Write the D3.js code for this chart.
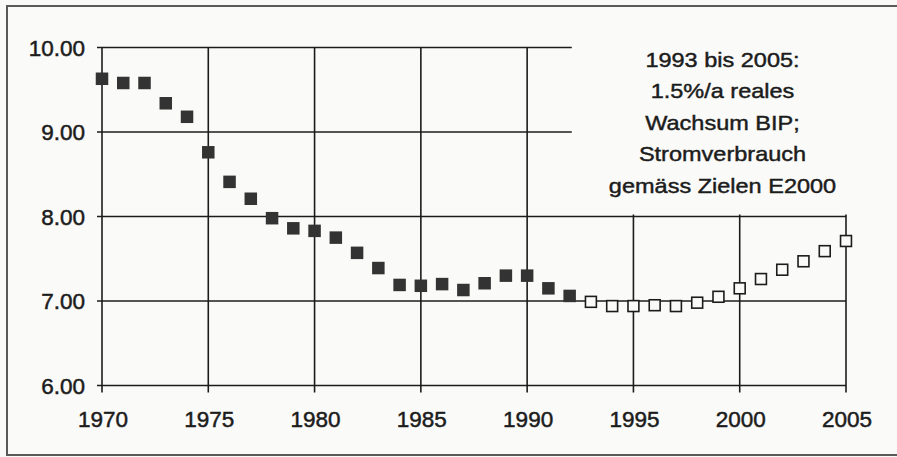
<!DOCTYPE html>
<html>
<head>
<meta charset="utf-8">
<script src="https://cdn.jsdelivr.net/npm/d3@7"></script>
<style>
  html, body { margin: 0; padding: 0; background: #fafaf8; }
  svg { display: block; font-family: "Liberation Sans", Arial, Helvetica, sans-serif; }
</style>
</head>
<body>
<div id="chart"></div>
<script>
const yearsHist = [1970, 1971, 1972, 1973, 1974, 1975, 1976, 1977, 1978, 1979, 1980,
                   1981, 1982, 1983, 1984, 1985, 1986, 1987, 1988, 1989, 1990, 1991, 1992];
const valuesHist = [9.63, 9.58, 9.58, 9.34, 9.18, 8.76, 8.41, 8.21, 7.98, 7.86, 7.83,
                    7.75, 7.57, 7.39, 7.19, 7.18, 7.20, 7.13, 7.21, 7.30, 7.30, 7.15, 7.06];

// scenario 1993 - 2005
const yearsProj = [1993, 1994, 1995, 1996, 1997, 1998, 1999, 2000, 2001, 2002, 2003, 2004, 2005];
const valuesProj = [6.99, 6.94, 6.94, 6.95, 6.94, 6.98, 7.05, 7.15, 7.26, 7.37, 7.47, 7.59, 7.71];

const xTicks = [1970, 1975, 1980, 1985, 1990, 1995, 2000, 2005];
const yTicks = [6, 7, 8, 9, 10];

const noteLines = ["1993 bis 2005:", "1.5%/a reales", "Wachsum BIP;", "Stromverbrauch", "gemäss Zielen E2000"];

const W = 897, H = 457;
const margin = {top: 47.5, right: 51, bottom: 71.5, left: 102};
const ink = "#1c1c1c";
const bg = "#fafaf8";

const svg = d3.select("#chart").append("svg")
    .attr("width", W)
    .attr("height", H);

// outer frame of the figure (right edge is cut off in the scan)
svg.append("path")
    .attr("d", `M${W + 10},6 H7 V455 H${W + 10}`)
    .attr("fill", "none")
    .attr("stroke", "#5a5a5a")
    .attr("stroke-width", 2);

const x = d3.scaleLinear()
    .domain([1970, 2005])
    .range([margin.left, W - margin.right]);

const y = d3.scaleLinear()
    .domain([6, 10])
    .range([H - margin.bottom, margin.top]);

const grid = svg.append("g")
    .attr("stroke", ink)
    .attr("stroke-width", 1.6);

// horizontal grid lines
grid.selectAll("line.h")
    .data(yTicks)
    .enter().append("line")
    .attr("class", "h")
    .attr("x1", x(1970) - 5)
    .attr("x2", x(2005))
    .attr("y1", d => y(d))
    .attr("y2", d => y(d));

// vertical grid lines, with tick stubs below the axis
grid.selectAll("line.v")
    .data(xTicks)
    .enter().append("line")
    .attr("class", "v")
    .attr("x1", d => x(d))
    .attr("x2", d => x(d))
    .attr("y1", y(10))
    .attr("y2", y(6) + 7);

// white box behind the note hides the grid top right
svg.append("rect")
    .attr("x", x(1992.1))
    .attr("y", y(10) - 10)
    .attr("width", W - x(1992.1) + 5)
    .attr("height", y(8) - 2 - (y(10) - 10))
    .attr("fill", bg);

// y tick labels
svg.append("g")
    .selectAll("text")
    .data(yTicks)
    .enter().append("text")
    .attr("x", 85)
    .attr("y", d => y(d))
    .attr("dy", "0.36em")
    .attr("text-anchor", "end")
    .attr("font-size", 22.5)
    .attr("fill", ink)
    .attr("stroke", ink)
    .attr("stroke-width", 0.5)
    .text(d => d3.format(".2f")(d));

// x tick labels
svg.append("g")
    .selectAll("text")
    .data(xTicks)
    .enter().append("text")
    .attr("x", d => x(d) + 1)
    .attr("y", 427)
    .attr("text-anchor", "middle")
    .attr("font-size", 22.5)
    .attr("fill", ink)
    .attr("stroke", ink)
    .attr("stroke-width", 0.5)
    .text(d => d);

const sq = 12.5;

// filled squares: historical data
svg.append("g")
    .selectAll("rect")
    .data(yearsHist.map((d, i) => [d, valuesHist[i]]))
    .enter().append("rect")
    .attr("x", d => x(d[0]) - sq / 2)
    .attr("y", d => y(d[1]) - sq / 2)
    .attr("width", sq)
    .attr("height", sq)
    .attr("fill", "#333333");

// open squares: scenario
svg.append("g")
    .selectAll("rect")
    .data(yearsProj.map((d, i) => [d, valuesProj[i]]))
    .enter().append("rect")
    .attr("x", d => x(d[0]) - (sq - 1.6) / 2)
    .attr("y", d => y(d[1]) - (sq - 1.6) / 2)
    .attr("width", sq - 1.6)
    .attr("height", sq - 1.6)
    .attr("fill", bg)
    .attr("stroke", ink)
    .attr("stroke-width", 1.6);

// note, the scan's lettering runs wide so it is stretched a bit
const note = svg.append("g")
    .attr("transform", "translate(722.5,0) scale(1.12,1)");

note.selectAll("text")
    .data(noteLines)
    .enter().append("text")
    .attr("x", 0)
    .attr("y", (d, i) => 67 + i * 31.5)
    .attr("text-anchor", "middle")
    .attr("font-size", 21)
    .attr("fill", ink)
    .attr("stroke", ink)
    .attr("stroke-width", 0.45)
    .text(d => d);
</script>
</body>
</html>
